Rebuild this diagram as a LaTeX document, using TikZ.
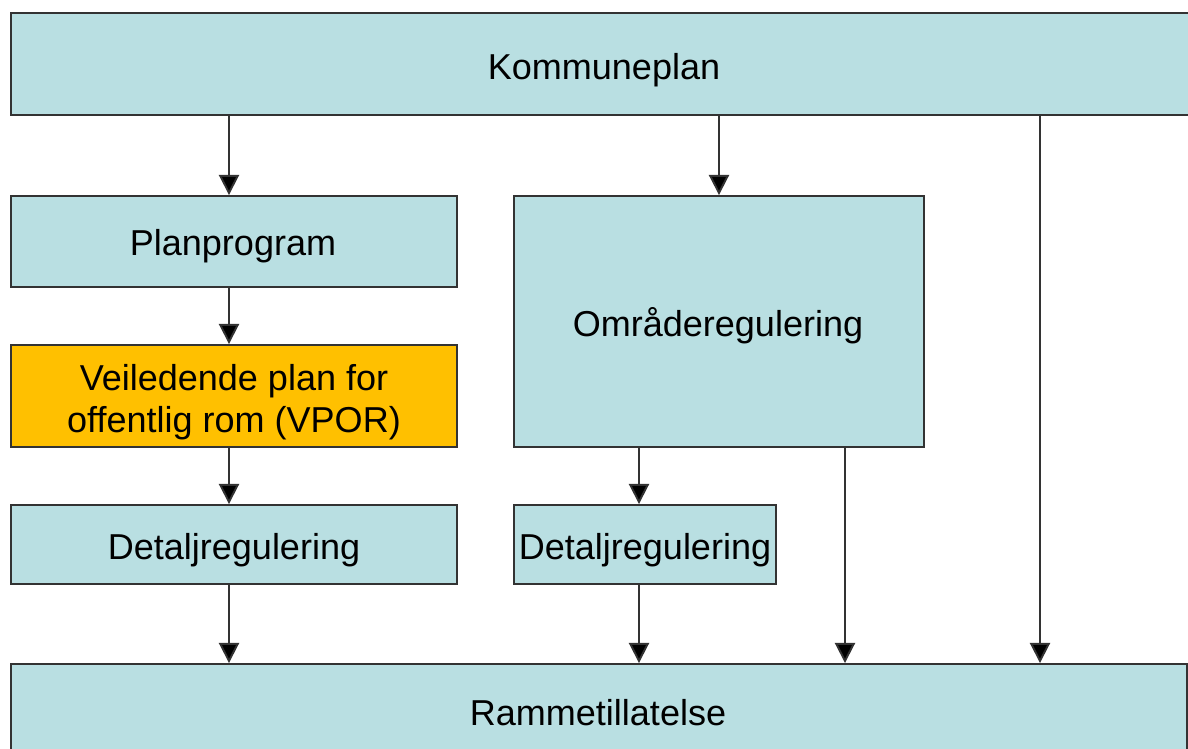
\documentclass[tikz,border=0pt]{standalone}
\usepackage{fontspec}
\setmainfont{Liberation Sans}
\usetikzlibrary{arrows.meta}
\definecolor{boxblue}{HTML}{B9DFE2}
\definecolor{boxorange}{HTML}{FFC000}
\definecolor{edge}{HTML}{333333}
\begin{document}
\begin{tikzpicture}[x=0.02cm,y=-0.02cm,
  box/.style={draw=edge,line width=1.1pt,fill=boxblue,inner sep=0pt,rectangle},
  lbl/.style={anchor=base,inner sep=0pt,font=\fontsize{20.5}{23.8}\selectfont,align=center},
  arr/.style={draw=edge,line width=1.1pt,-{Triangle[width=11.5pt,length=11.5pt,fill=black]}}]
\useasboundingbox (0,0) rectangle (1188,749);
% boxes
\node[box,minimum width=23.58cm,minimum height=2.04cm] (kpb) at (600.5,64) {};
\node[box,minimum width=8.92cm,minimum height=1.82cm] (ppb) at (234,241.5) {};
\node[box,fill=boxorange,minimum width=8.92cm,minimum height=2.04cm] (vpb) at (234,396) {};
\node[box,minimum width=8.92cm,minimum height=1.58cm] (d1b) at (234,544.5) {};
\node[box,minimum width=8.2cm,minimum height=5.02cm] (orb) at (719,321.5) {};
\node[box,minimum width=5.24cm,minimum height=1.58cm] (d2b) at (645,544.5) {};
\node[box,minimum width=23.52cm,minimum height=2.02cm] (rtb) at (599,714.5) {};
% texts
\node[lbl] (kp) at (604,80) {Kommuneplan};
\node[lbl] (pp) at (233,255.5) {Planprogram};
\node[lbl,anchor=center] (vp) at (234,402) {Veiledende plan for\\offentlig rom (VPOR)};
\node[lbl] (d1) at (234,560) {Detaljregulering};
\node[lbl] (or) at (718,337) {Områderegulering};
\node[lbl] (d2) at (645,560) {Detaljregulering};
\node[lbl] (rt) at (598,726) {Rammetillatelse};
% connector columns
\coordinate (cA) at (229,0);
\coordinate (cB) at (719,0);
\coordinate (cC) at (639,0);
\coordinate (cD) at (845,0);
\coordinate (cE) at (1040,0);
\draw[arr] (kpb.south -| cA) -- (ppb.north -| cA);
\draw[arr] (ppb.south -| cA) -- (vpb.north -| cA);
\draw[arr] (vpb.south -| cA) -- (d1b.north -| cA);
\draw[arr] (d1b.south -| cA) -- (rtb.north -| cA);
\draw[arr] (kpb.south -| cB) -- (orb.north -| cB);
\draw[arr] (orb.south -| cC) -- (d2b.north -| cC);
\draw[arr] (d2b.south -| cC) -- (rtb.north -| cC);
\draw[arr] (orb.south -| cD) -- (rtb.north -| cD);
\draw[arr] (kpb.south -| cE) -- (rtb.north -| cE);
\end{tikzpicture}
\end{document}
